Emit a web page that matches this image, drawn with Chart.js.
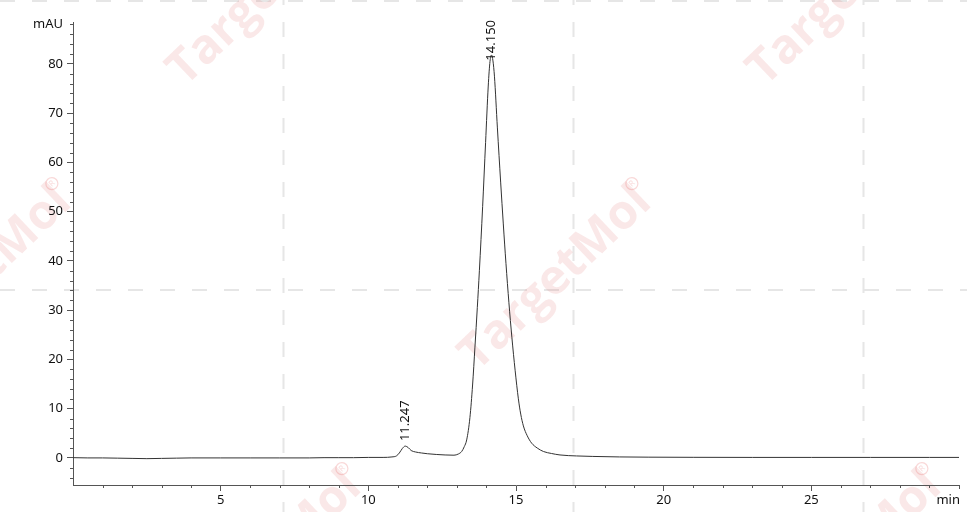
<!DOCTYPE html>
<html>
<head>
<meta charset="utf-8">
<script src="https://cdn.jsdelivr.net/npm/chart.js@4.4.1/dist/chart.umd.min.js"></script>
<style>
  html, body { margin: 0; padding: 0; background: #fff; }
  #wrap { width: 967px; height: 512px; }
</style>
</head>
<body>
<div id="wrap"><canvas id="chrom"></canvas></div>
<script>
// retention time (min) and absorbance (mAU)
const retentionTime = [0, 0.5, 1, 1.5, 2, 2.5, 3, 3.5, 4, 5, 6, 7, 8, 8.5, 9, 9.5, 10, 10.5, 10.8, 10.95,
  11.05, 11.15, 11.25, 11.35, 11.45, 11.6, 11.8, 12.0, 12.3, 12.6, 12.9, 13.05, 13.16, 13.25, 13.33, 13.44,
  13.53, 13.61, 13.69, 13.76, 13.87, 13.97, 14.06, 14.12, 14.17, 14.22, 14.27, 14.37, 14.48, 14.57, 14.66,
  14.76, 14.86, 14.97, 15.08, 15.16, 15.25, 15.38, 15.53, 15.72, 15.93, 16.2, 16.49, 17.05, 17.6, 18.5,
  19.5, 21, 23, 25, 27, 29, 30];
const absorbance = [0.05, 0, 0, -0.05, -0.1, -0.15, -0.1, -0.05, 0, 0, 0, 0, 0, 0.05, 0.05, 0.05, 0.1, 0.1, 0.2, 0.4,
  1.0, 1.9, 2.4, 2.1, 1.5, 1.2, 1.0, 0.85, 0.7, 0.6, 0.55, 0.8, 1.3, 2.3, 3.65, 8.2,
  14.8, 22.5, 30.5, 38.0, 51, 64, 75.5, 80.5, 81.8, 80.6, 77.5, 67, 56, 47.5, 39.5,
  31.5, 24.5, 17.8, 12.0, 8.9, 6.5, 4.5, 3.0, 2.0, 1.3, 0.9, 0.6, 0.4, 0.3, 0.2,
  0.15, 0.12, 0.1, 0.1, 0.1, 0.1, 0.1];

// integrated peaks
const peakTimes = [11.247, 14.150];
const peakHeights = [2.4, 81.8];
const peakLabels = ['11.247', '14.150'];

// axis ticks
const xMajorTicks = [5, 10, 15, 20, 25];
const yMajorTicks = [0, 10, 20, 30, 40, 50, 60, 70, 80];
const yUnitTick = 88;

const FONT = '"Noto Sans", "DejaVu Sans", sans-serif';

const points = retentionTime.map((t, i) => ({ x: t, y: absorbance[i] }));

// white background, dashed tile lines and the pale watermark
const backdrop = {
  id: 'backdrop',
  beforeDraw(chart) {
    const ctx = chart.ctx;
    const w = chart.width, h = chart.height;
    ctx.save();
    ctx.fillStyle = '#fff';
    ctx.fillRect(0, 0, w, h);

    ctx.strokeStyle = '#e6e6e6';
    ctx.lineWidth = 2;
    ctx.setLineDash([15, 17]);
    [0.2927, 0.5927, 0.8927].forEach(f => {
      ctx.beginPath();
      ctx.lineDashOffset = 10;
      ctx.moveTo(Math.round(w * f) + 0.5, 0);
      ctx.lineTo(Math.round(w * f) + 0.5, h);
      ctx.stroke();
    });
    [0.5645, 0].forEach(f => {
      ctx.beginPath();
      ctx.lineDashOffset = 0;
      ctx.moveTo(0, Math.round(h * f) + 1);
      ctx.lineTo(w, Math.round(h * f) + 1);
      ctx.stroke();
    });
    ctx.setLineDash([]);

    const starts = [[185, 87], [765, 87], [477, 372], [-103, 372], [1057, 372], [187, 657], [767, 657]];
    ctx.font = 'bold 44px "Open Sans", sans-serif';
    const scale = 243 / ctx.measureText('TargetMol').width;
    starts.forEach(([sx, sy]) => {
      ctx.save();
      ctx.translate(sx, sy);
      ctx.rotate(-43.5 * Math.PI / 180);
      ctx.font = 'bold ' + (44 * scale).toFixed(1) + 'px "Open Sans", sans-serif';
      ctx.fillStyle = 'rgba(225, 110, 110, 0.16)';
      ctx.textBaseline = 'alphabetic';
      ctx.fillText('TargetMol', 0, 0);
      ctx.strokeStyle = 'rgba(230, 100, 100, 0.25)';
      ctx.lineWidth = 1.2;
      ctx.beginPath();
      ctx.arc(242, -30, 6, 0, Math.PI * 2);
      ctx.stroke();
      ctx.font = '8px "Open Sans", sans-serif';
      ctx.fillStyle = 'rgba(230, 100, 100, 0.25)';
      ctx.textAlign = 'center';
      ctx.textBaseline = 'middle';
      ctx.fillText('R', 242, -30);
      ctx.restore();
    });
    ctx.restore();
  }
};

// short minor ticks and the "min" unit label
const minorTicks = {
  id: 'minorTicks',
  afterDraw(chart) {
    const ctx = chart.ctx;
    const xs = chart.scales.x, ys = chart.scales.y;
    const area = chart.chartArea;
    ctx.save();
    ctx.strokeStyle = '#555';
    ctx.lineWidth = 1;
    ctx.beginPath();
    for (let t = 1; t <= 30; t++) {
      if (t % 5 === 0 && t < 30) continue;
      const px = Math.round(xs.getPixelForValue(t)) + 0.5;
      ctx.moveTo(px, area.bottom);
      ctx.lineTo(px, area.bottom + (t === 30 ? 4 : 3));
    }
    for (let v = -4; v <= 88; v += 2) {
      if (v % 10 === 0) continue;
      const py = Math.round(ys.getPixelForValue(v)) + 0.5;
      ctx.moveTo(area.left, py);
      ctx.lineTo(area.left - 3, py);
    }
    ctx.stroke();
    ctx.fillStyle = '#111';
    ctx.font = '13px ' + FONT;
    ctx.textAlign = 'right';
    ctx.textBaseline = 'middle';
    ctx.fillText('min', xs.getPixelForValue(30) + 1, area.bottom + 15);
    ctx.restore();
  }
};

// vertical retention-time labels above each peak
const peakNames = {
  id: 'peakNames',
  afterDatasetsDraw(chart) {
    const ctx = chart.ctx;
    const xs = chart.scales.x, ys = chart.scales.y;
    const area = chart.chartArea;
    ctx.save();
    ctx.font = '13px ' + FONT;
    ctx.fillStyle = '#111';
    ctx.textAlign = 'left';
    ctx.textBaseline = 'middle';
    peakTimes.forEach((t, i) => {
      const px = xs.getPixelForValue(t);
      const w = ctx.measureText(peakLabels[i]).width;
      let start = ys.getPixelForValue(peakHeights[i]) - 5;
      if (start - w < area.top - 2) start = area.top - 2 + w;
      ctx.save();
      ctx.translate(px, start);
      ctx.rotate(-Math.PI / 2);
      ctx.fillText(peakLabels[i], 0, 0);
      ctx.restore();
    });
    ctx.restore();
  }
};

const ctx = document.getElementById('chrom').getContext('2d');
new Chart(ctx, {
  type: 'line',
  data: {
    datasets: [{
      data: points,
      borderColor: '#333',
      borderWidth: 1,
      pointRadius: 0,
      fill: false,
      cubicInterpolationMode: 'monotone'
    }]
  },
  options: {
    responsive: true,
    maintainAspectRatio: false,
    animation: false,
    events: [],
    layout: { padding: { top: 22, right: 8, left: 0, bottom: 0 } },
    plugins: {
      legend: { display: false },
      tooltip: { enabled: false }
    },
    scales: {
      x: {
        type: 'linear',
        min: 0,
        max: 30,
        afterBuildTicks: s => { s.ticks = xMajorTicks.map(v => ({ value: v })); },
        afterFit: s => { s.height = 27; },
        border: { color: '#555', width: 1 },
        grid: { drawOnChartArea: false, tickLength: 6, color: '#555' },
        ticks: { color: '#111', font: { family: FONT, size: 13 }, padding: 1, maxRotation: 0 }
      },
      y: {
        type: 'linear',
        min: -5.5,
        max: 88.5,
        afterBuildTicks: s => { s.ticks = yMajorTicks.concat([yUnitTick]).map(v => ({ value: v })); },
        afterFit: s => { s.width = 73; },
        border: { color: '#555', width: 1 },
        grid: {
          drawOnChartArea: false,
          tickLength: 6,
          color: '#555',
          tickColor: c => (c.tick && c.tick.value === yUnitTick ? 'rgba(0,0,0,0)' : '#555')
        },
        ticks: {
          color: '#111',
          font: { family: FONT, size: 13 },
          padding: 4,
          callback: v => (v === yUnitTick ? 'mAU' : v)
        }
      }
    }
  },
  plugins: [backdrop, minorTicks, peakNames]
});
</script>
</body>
</html>
